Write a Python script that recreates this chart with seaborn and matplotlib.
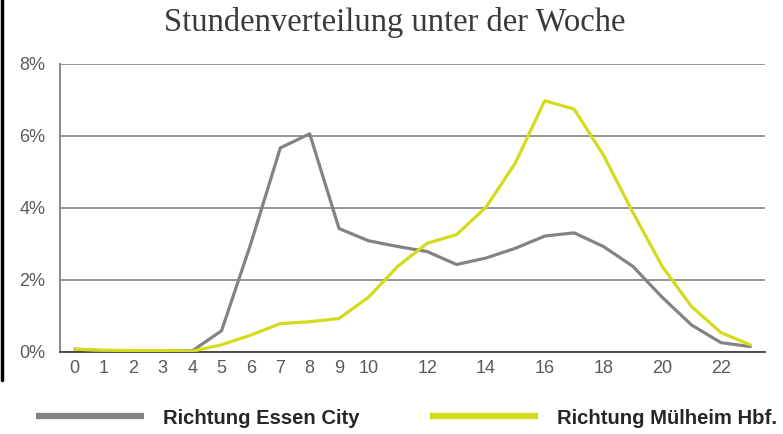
import pandas as pd
import seaborn as sns
import matplotlib.pyplot as plt
from matplotlib.ticker import FixedLocator, PercentFormatter
from matplotlib.lines import Line2D

hours = list(range(24))
essen_city = [0.08, 0.03, 0.03, 0.03, 0.03, 0.59, 3.02, 5.67, 6.06, 3.43, 3.09, 2.93,
              2.79, 2.43, 2.61, 2.88, 3.22, 3.31, 2.93, 2.38, 1.52, 0.75, 0.26, 0.15]
muelheim_hbf = [0.08, 0.05, 0.04, 0.04, 0.02, 0.20, 0.47, 0.79, 0.84, 0.93, 1.52, 2.38,
                3.02, 3.26, 4.02, 5.25, 6.98, 6.75, 5.47, 3.88, 2.38, 1.26, 0.54, 0.20]
series_names = ["Richtung Essen City", "Richtung Mülheim Hbf."]
tick_hours = [0, 1, 2, 3, 4, 5, 6, 7, 8, 9, 10, 12, 14, 16, 18, 20, 22]
y_ticks = [0, 2, 4, 6, 8]

df = pd.DataFrame({
    "Stunde": hours * 2,
    "Anteil": essen_city + muelheim_hbf,
    "Richtung": [series_names[0]] * 24 + [series_names[1]] * 24,
})

sns.set_style("white")
plt.rcParams["font.family"] = ["Liberation Sans", "DejaVu Sans"]

fig = plt.figure(figsize=(7.83, 4.34), dpi=100)
ax = fig.add_axes([60 / 783, 82 / 434, 705 / 783, 288 / 434])

palette = {series_names[0]: "#838383", series_names[1]: "#d2dc1c"}
sns.lineplot(data=df, x="Stunde", y="Anteil", hue="Richtung", palette=palette,
             linewidth=2.3, ax=ax, legend=False, zorder=3)

ax.set_xlim(-0.5, 23.5)
ax.set_ylim(0, 8)
ax.set_xticks(tick_hours)
ax.set_xticklabels([str(h) for h in tick_hours])
ax.xaxis.set_minor_locator(FixedLocator([h - 0.5 for h in range(25)]))
ax.tick_params(axis="x", which="major", length=0, pad=6, labelsize=13, labelcolor="#5a5a5a")
ax.tick_params(axis="x", which="minor", length=7, direction="inout", color="#aaaaaa", width=1)
ax.set_yticks(y_ticks)
ax.yaxis.set_major_formatter(PercentFormatter(decimals=0))
ax.tick_params(axis="y", length=5.5, direction="out", color="#8c8c8c", width=1.3, pad=5,
               labelsize=13, labelcolor="#5a5a5a")
ax.grid(axis="y", color="#8c8c8c", linewidth=1.3)
ax.set_axisbelow(True)
ax.set_xlabel("")
ax.set_ylabel("")

for side in ["top", "right"]:
    ax.spines[side].set_visible(False)
ax.spines["left"].set_color("#8c8c8c")
ax.spines["left"].set_linewidth(1.5)
ax.spines["bottom"].set_color("#444444")
ax.spines["bottom"].set_linewidth(1.3)

fig.text(395 / 783, 1 - 22 / 434, "Stundenverteilung unter der Woche",
         family="Liberation Serif", fontsize=23.5, color="#3a3a3a", ha="center", va="center")

handles = [Line2D([], [], color=palette[n], linewidth=4.5, solid_capstyle="butt")
           for n in series_names]
fig.legend(handles, series_names, loc="center left", bbox_to_anchor=(18 / 783, 1 - 418 / 434),
           ncol=2, frameon=False, handlelength=5.3, handletextpad=0.95, columnspacing=3.5,
           prop={"family": ["Liberation Sans", "DejaVu Sans"], "size": 14.6, "weight": "bold"})

fig.add_artist(Line2D([1.5 / 783, 1.5 / 783], [1 - 380 / 434, 1], color="black", linewidth=2.5))

fig.savefig("out.png", dpi=100)
